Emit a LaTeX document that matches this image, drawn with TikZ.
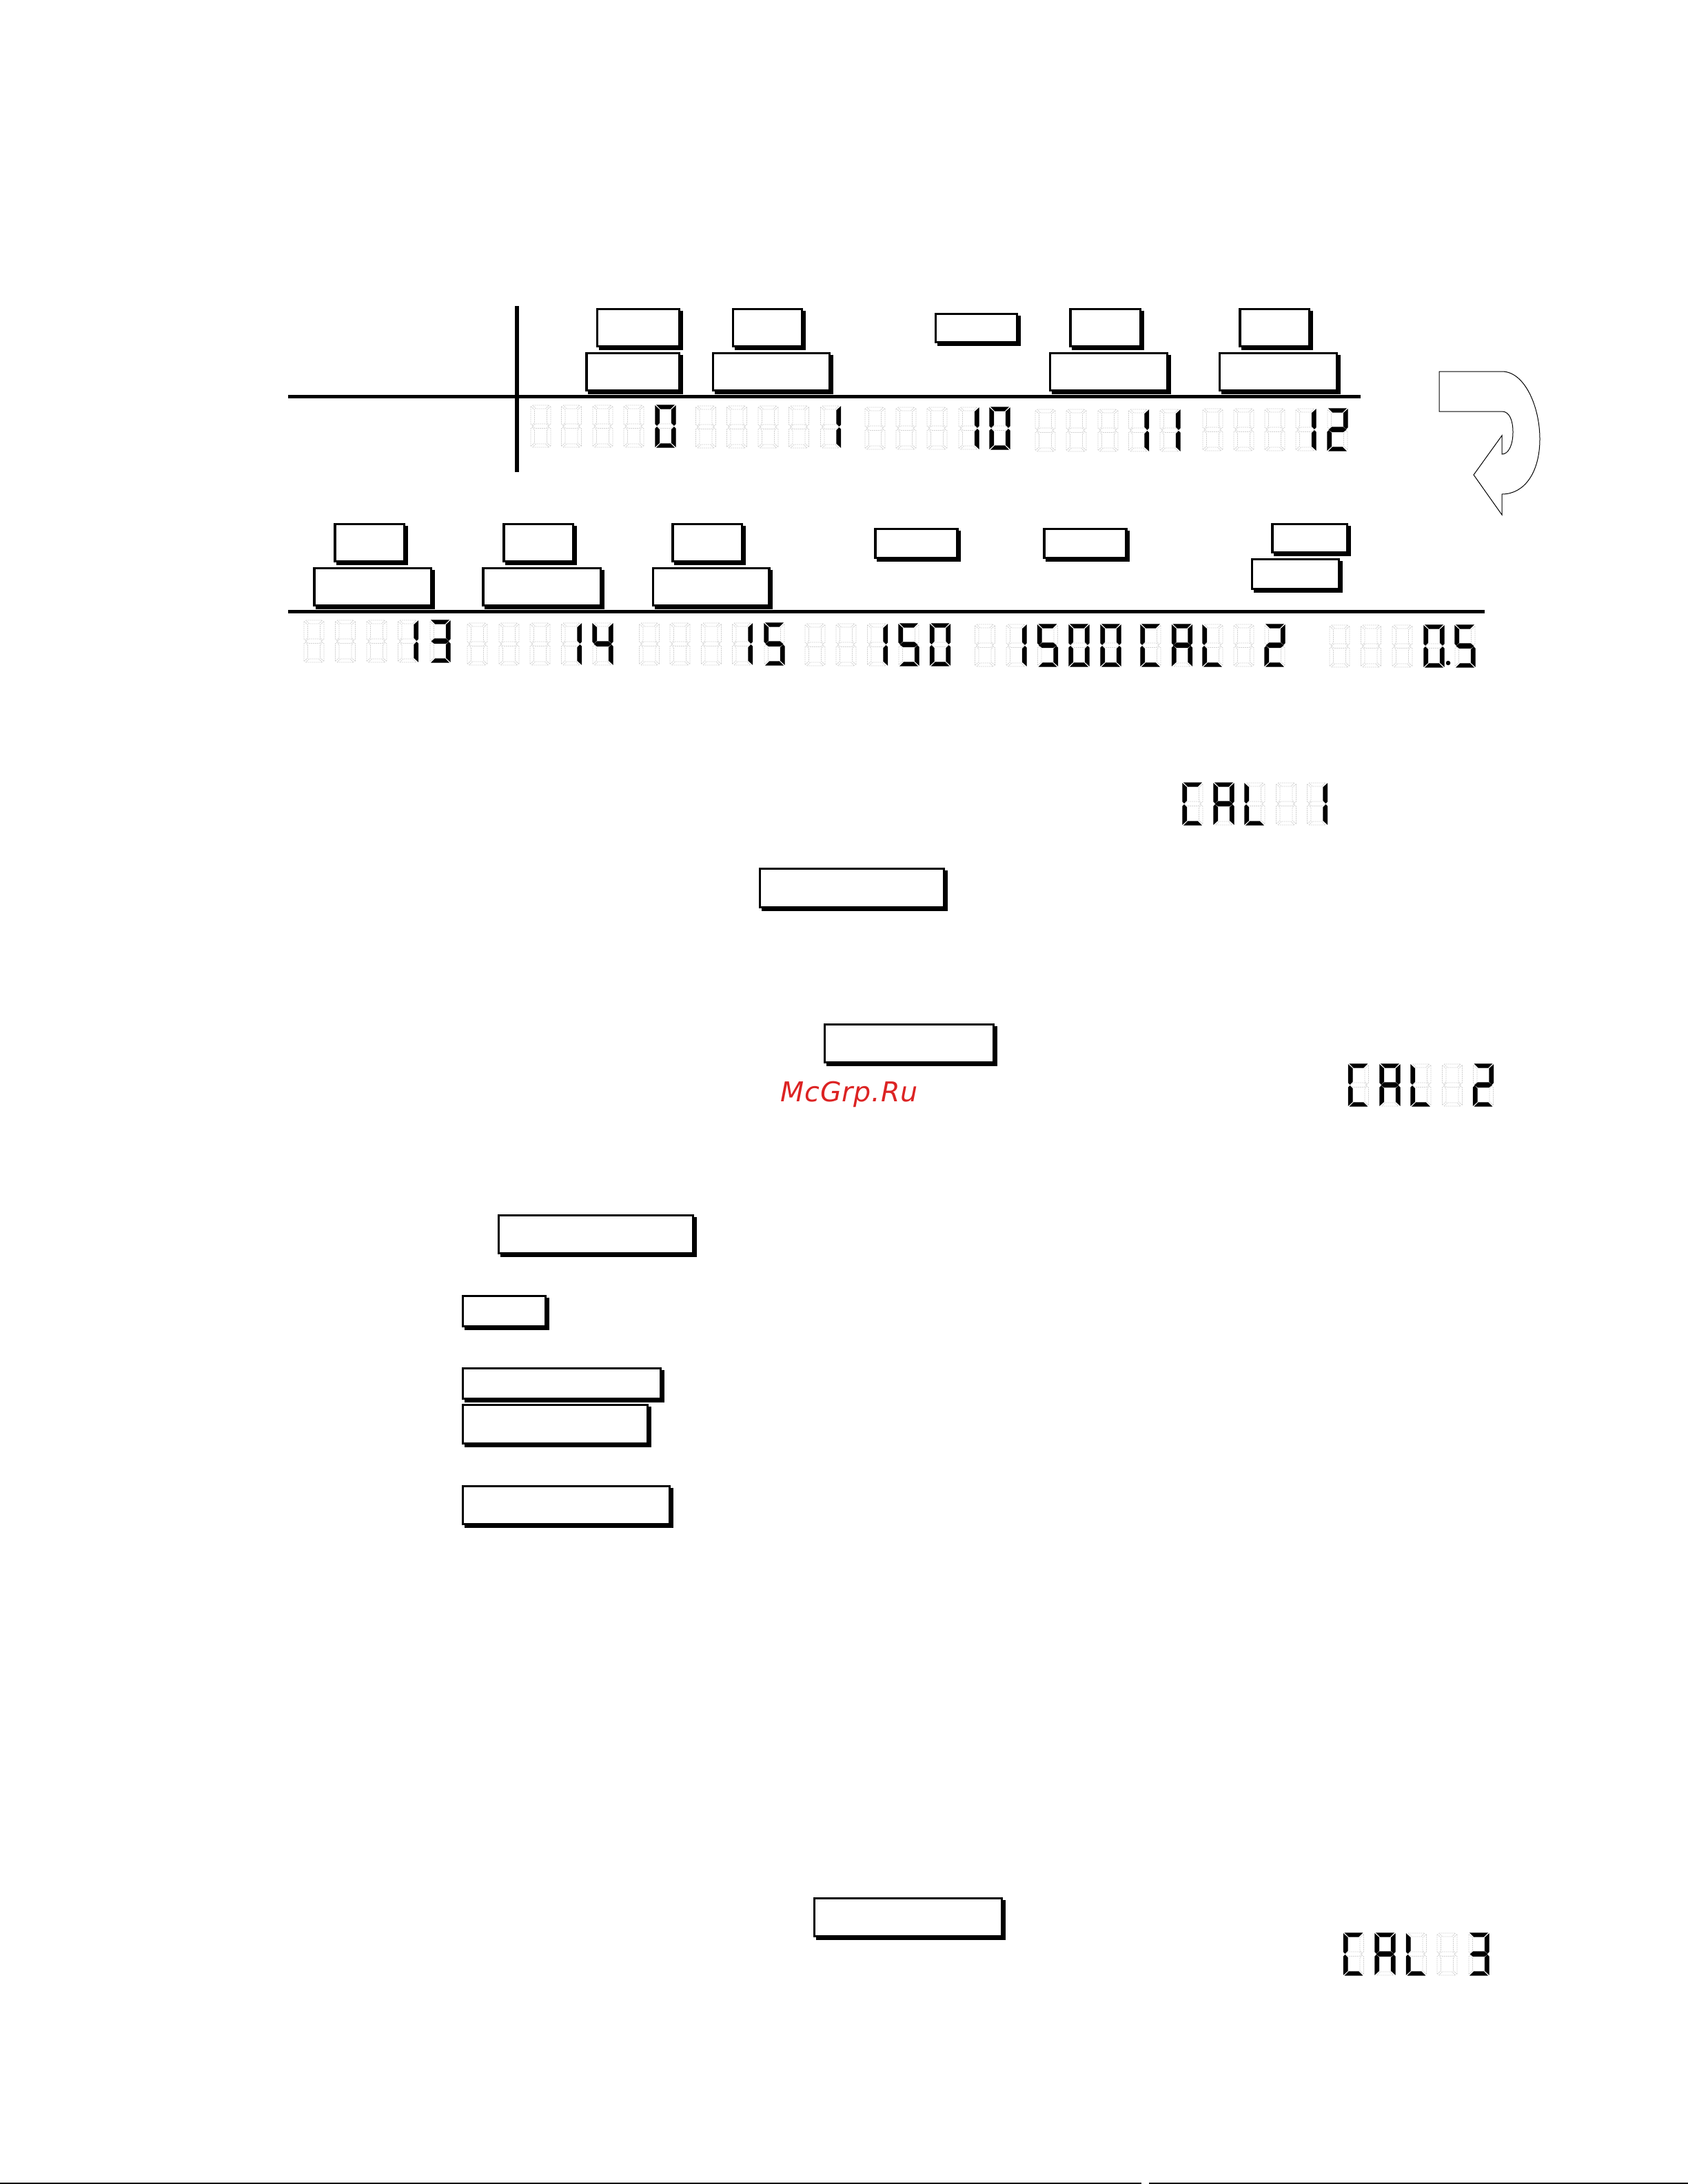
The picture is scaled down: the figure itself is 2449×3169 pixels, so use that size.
\documentclass[tikz,border=0pt]{standalone}
\usepackage{xcolor}
\usepackage{fontspec}
\usepackage{tikz}
\newfontfamily\markfont[LetterSpace=2]{DejaVu Sans}
\definecolor{markred}{RGB}{220,35,35}
\tikzset{
    panel/.style={draw=black, fill=white, line width=.8pt, inner sep=0pt, outer sep=0pt},
    rule/.style={draw=black, line width=1.3pt},
    segoff/.style={draw=black!18, line width=.2pt, dash pattern=on .5pt off .25pt},
    segon/.style={fill=black, draw=black, line width=.3pt},
    turn/.style={draw=black, line width=.25pt}
}
% one box by its outer edges, in pixels of the page, with its shadow
\newcommand{\panelbox}[5]{%
    \fill ({#2+3.5},{#3+3.5}) rectangle ({#4+3.5},{#5+3.5});
    \node[panel, minimum width={(#4-#2-3)*.25pt}, minimum height={(#5-#3-3)*.25pt}]
        (#1) at ({(#2+#4)/2},{(#3+#5)/2}) {};}
% segments of one digit
\def\sega{(2.5,0) -- (26.5,0) -- (21.5,5) -- (7.5,5) -- cycle}
\def\segb{(29,1.5) -- (23.5,6.5) -- (23.5,25.5) -- (27,29) -- (29,27) -- cycle}
\def\segc{(29,59.5) -- (23.5,54.5) -- (23.5,35.5) -- (27,32) -- (29,34) -- cycle}
\def\segd{(2.5,61) -- (26.5,61) -- (21.5,56) -- (7.5,56) -- cycle}
\def\sege{(0,59.5) -- (5.5,54.5) -- (5.5,35.5) -- (2,32) -- (0,34) -- cycle}
\def\segf{(0,1.5) -- (5.5,6.5) -- (5.5,25.5) -- (2,29) -- (0,27) -- cycle}
\def\segg{(2.5,30.5) -- (6.5,27) -- (22.5,27) -- (26.5,30.5) -- (22.5,33.5) -- (6.5,33.5) -- cycle}
\def\segx{(0,0)}
\def\dblank{x}
\def\dzero{a,b,c,d,e,f}
\def\done{b,c}
\def\dtwo{a,b,g,e,d}
\def\dthree{a,b,g,c,d}
\def\dfour{f,g,b,c}
\def\dfive{a,f,g,c,d}
\def\dC{a,f,e,d}
\def\dA{a,b,c,e,f,g}
\def\dL{f,e,d}
\newcommand{\lcd}[3]{%
    \begin{scope}[shift={(#1,#2)}]
        \foreach \s in {a,b,c,d,e,f,g} \draw[segoff] \csname seg\s\endcsname;
        \edef\lcdsegs{#3}
        \foreach \s in \lcdsegs \filldraw[segon] \csname seg\s\endcsname;
    \end{scope}}

\begin{document}
\begin{tikzpicture}[x=.25pt, y=-.25pt]
    \useasboundingbox (0,0) rectangle (2449,3169);

    % rules of the table
    \coordinate (vtop) at (750,444);
    \coordinate (vbot) at (750,685);
    \coordinate (hoA) at (418,575.5);
    \coordinate (hoB) at (1974,575.5);
    \coordinate (htA) at (418,887.5);
    \coordinate (htB) at (2154,887.5);
    \draw[rule] (vtop) -- (vbot);
    \draw[rule] (hoA) -- (hoB);
    \draw[rule] (htA) -- (htB);

    % boxes above first row
    \panelbox{rowAa}{865}{447}{987}{504}
    \panelbox{rowAb}{849.5}{511}{987}{568}
    \panelbox{rowBa}{1062}{447}{1165}{504}
    \panelbox{rowBb}{1033}{511}{1205}{568}
    \panelbox{rowC}{1356}{454}{1477}{498}
    \panelbox{rowDa}{1551.5}{447}{1656}{504}
    \panelbox{rowDb}{1522}{511}{1695}{568}
    \panelbox{rowEa}{1797.5}{447}{1901}{504}
    \panelbox{rowEb}{1768}{511}{1941}{568}

    % first row of displays
    \foreach \dx/\dg in {770/\dblank, 814.5/\dblank, 860/\dblank, 905/\dblank, 951/\dzero}
        \lcd{\dx}{588}{\dg};
    \foreach \dx/\dg in {1009.5/\dblank, 1054.5/\dblank, 1100/\dblank, 1144.5/\dblank, 1190.5/\done}
        \lcd{\dx}{589}{\dg};
    \foreach \dx/\dg in {1255/\dblank, 1300/\dblank, 1345/\dblank, 1391/\done, 1436/\dzero}
        \lcd{\dx}{591}{\dg};
    \foreach \dx/\dg in {1502/\dblank, 1547/\dblank, 1593/\dblank, 1637.5/\done, 1683/\done}
        \lcd{\dx}{594}{\dg};
    \foreach \dx/\dg in {1745/\dblank, 1790/\dblank, 1835/\dblank, 1880/\done, 1926/\dtwo}
        \lcd{\dx}{593}{\dg};

    % turn arrow between the rows
    \draw[turn] (2088,539) -- (2179,539) .. controls (2212,539) and (2234,590) .. (2234,637)
        .. controls (2234,685) and (2212,717) .. (2179,717) -- (2179,747) -- (2138,689)
        -- (2179,632) -- (2179,659) .. controls (2189,659) and (2195,645) .. (2195,627)
        .. controls (2195,610) and (2190,597) .. (2179,597) -- (2088,597) -- cycle;

    % boxes above second row
    \panelbox{rowFa}{484.5}{759}{588}{816}
    \panelbox{rowFb}{454.5}{823}{627}{880}
    \panelbox{rowGa}{729.5}{759}{833}{816}
    \panelbox{rowGb}{699.5}{823}{873}{880}
    \panelbox{rowHa}{974.5}{759}{1078}{816}
    \panelbox{rowHb}{946}{823}{1117.5}{880}
    \panelbox{rowI}{1268.5}{766}{1390.5}{811}
    \panelbox{rowJ}{1513.5}{766}{1635.5}{811}
    \panelbox{rowKa}{1844.5}{759}{1956}{803}
    \panelbox{rowKb}{1815}{810}{1944}{856}

    % second row of displays
    \foreach \dx/\dg in {441/\dblank, 486.5/\dblank, 532/\dblank, 577.5/\done, 624/\dthree}
        \lcd{\dx}{900}{\dg};
    \foreach \dx/\dg in {678/\dblank, 724/\dblank, 769/\dblank, 814.5/\done, 860/\dfour}
        \lcd{\dx}{904}{\dg};
    \foreach \dx/\dg in {927.5/\dblank, 972/\dblank, 1017.5/\dblank, 1062.5/\done, 1109/\dfive}
        \lcd{\dx}{904}{\dg};
    \foreach \dx/\dg in {1168/\dblank, 1213/\dblank, 1258.5/\done, 1304/\dfive, 1349.5/\dzero}
        \lcd{\dx}{905}{\dg};
    \foreach \dx/\dg in {1414.5/\dblank, 1460/\done, 1505.5/\dfive, 1551/\dzero, 1597/\dzero}
        \lcd{\dx}{906}{\dg};
    \foreach \dx/\dg in {1655/\dC, 1700.5/\dA, 1745/\dL, 1790/\dblank, 1835/\dtwo}
        \lcd{\dx}{906}{\dg};
    \foreach \dx/\dg in {1929/\dblank, 1974.5/\dblank, 2020/\dblank, 2066/\dzero, 2111/\dfive}
        \lcd{\dx}{907}{\dg};
    \fill (2101,962) circle (3.3);

    % CAL 1
    \panelbox{calA}{1101}{1259}{1371}{1318}
    \foreach \dx/\dg in {1716/\dC, 1761/\dA, 1806/\dL, 1851.5/\dblank, 1896.5/\done}
        \lcd{\dx}{1136}{\dg};

    % CAL 2
    \panelbox{calB}{1195}{1485}{1443}{1543}
    \foreach \dx/\dg in {1956.5/\dC, 2002/\dA, 2047/\dL, 2092.5/\dblank, 2137.5/\dtwo}
        \lcd{\dx}{1544}{\dg};
    \node[text=markred, inner sep=0pt, anchor=base west, font=\markfont\itshape\fontsize{9.9pt}{12pt}\selectfont]
        (mark) at (1132,1598) {McGrp.Ru};

    % column of boxes
    \panelbox{listA}{722}{1762}{1007}{1820}
    \panelbox{listB}{670}{1879}{793}{1926}
    \panelbox{listC}{670}{1984}{960}{2031}
    \panelbox{listD}{670}{2037}{941}{2096}
    \panelbox{listE}{670}{2155}{973}{2213}

    % CAL 3
    \panelbox{calC}{1180}{2753}{1455}{2811}
    \foreach \dx/\dg in {1949.5/\dC, 1995/\dA, 2040.5/\dL, 2085/\dblank, 2131/\dthree}
        \lcd{\dx}{2805}{\dg};

    % edge of the page
    \coordinate (edgeA) at (0,3168);
    \coordinate (edgeB) at (1656,3168);
    \coordinate (edgeC) at (1667,3168);
    \coordinate (edgeD) at (2449,3168);
    \draw[line width=.5pt] (edgeA) -- (edgeB) (edgeC) -- (edgeD);
\end{tikzpicture}
\end{document}
